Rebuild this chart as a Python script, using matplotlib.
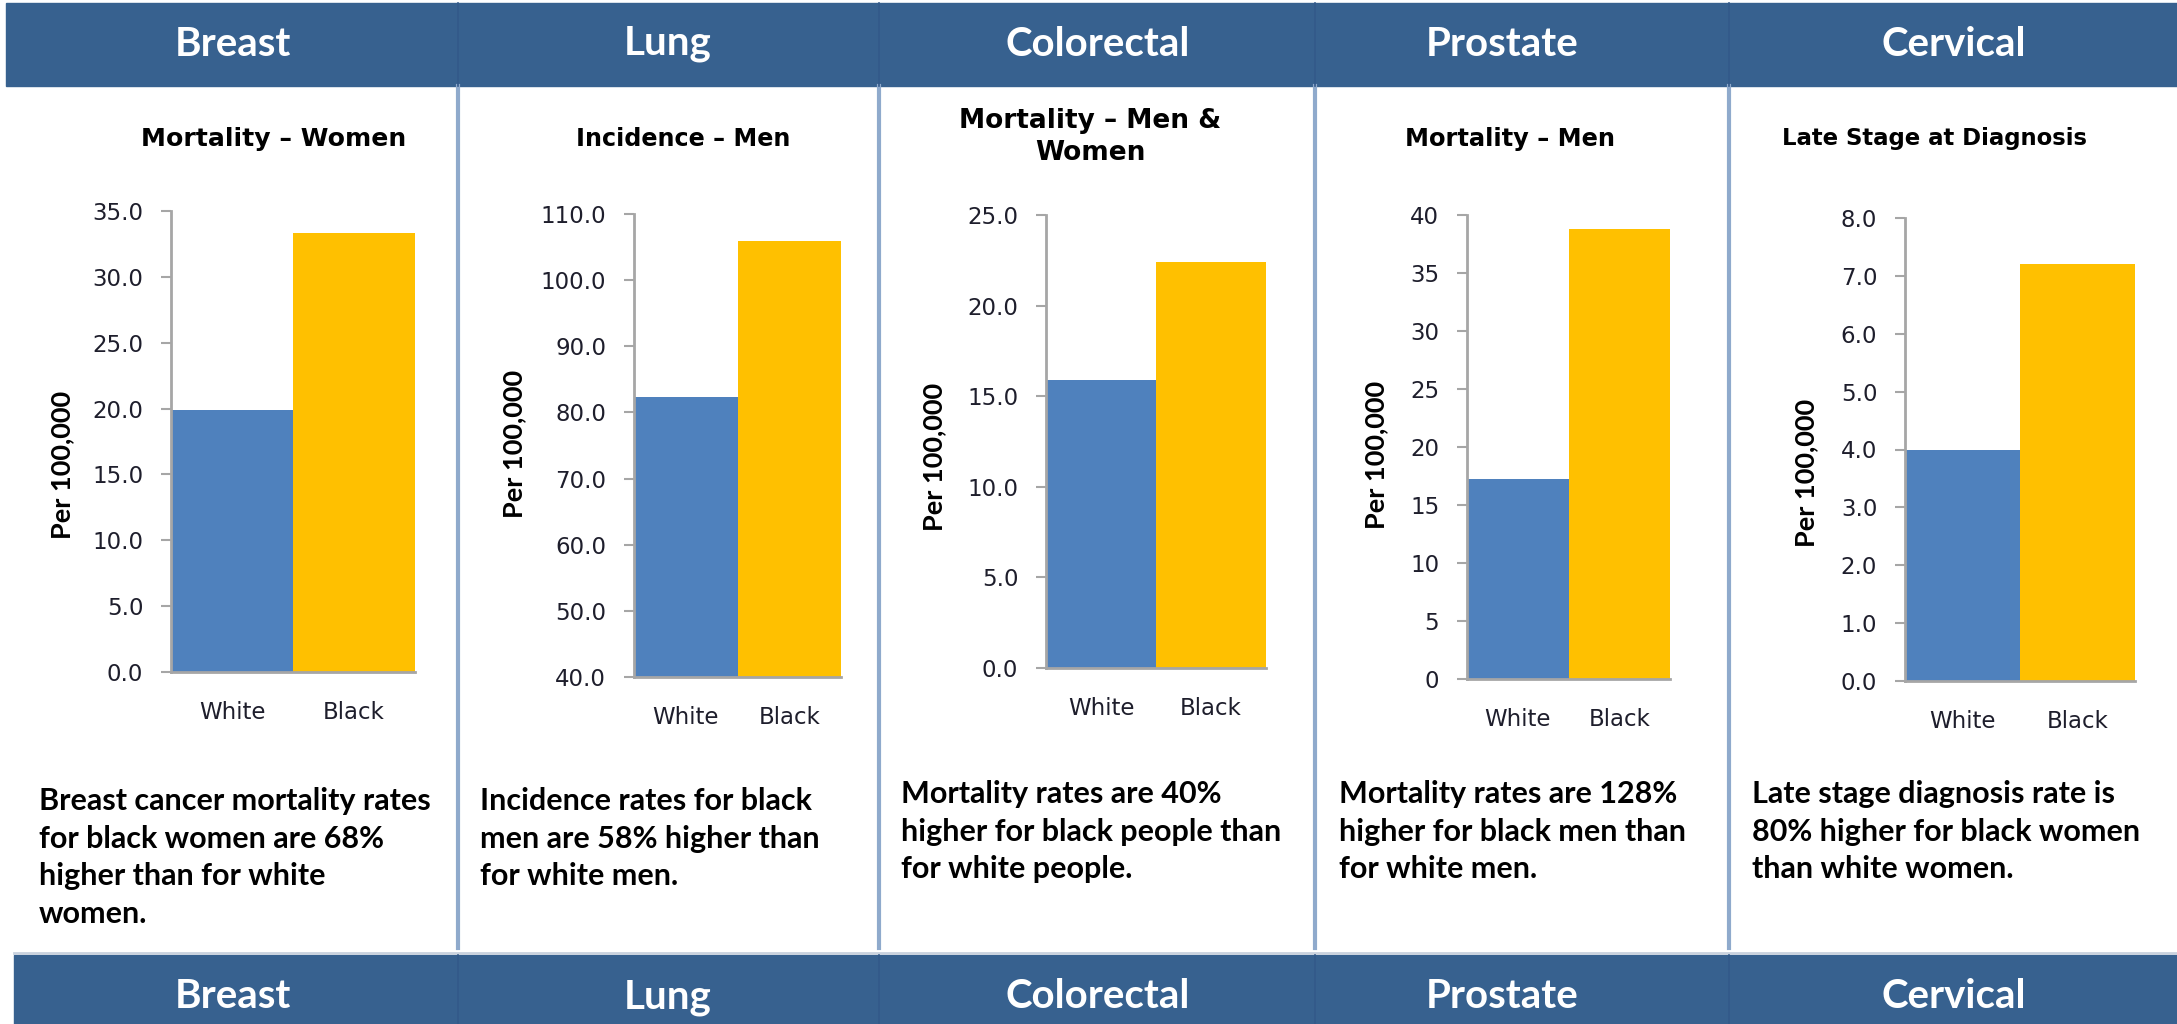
import matplotlib
matplotlib.use("Agg")
import matplotlib.pyplot as plt
from matplotlib import font_manager
from matplotlib.patches import Rectangle
from matplotlib.lines import Line2D

# --- data ---
cancers = ["Breast", "Lung", "Colorectal", "Prostate", "Cervical"]
groups = ["White", "Black"]
subtitles = ["Mortality – Women", "Incidence – Men", "Mortality – Men &\nWomen",
             "Mortality – Men", "Late Stage at Diagnosis"]
white_vals = [19.9, 82.3, 15.9, 17.2, 4.0]
black_vals = [33.3, 105.9, 22.4, 38.8, 7.2]
y_ranges = [(0, 35, 5), (40, 110, 10), (0, 25, 5), (0, 40, 5), (0, 8, 1)]
y_formats = ["{:.1f}", "{:.1f}", "{:.1f}", "{:.0f}", "{:.1f}"]
y_label = "Per 100,000"
notes = [
    ["Breast cancer mortality rates", "for black women are 68%", "higher than for white", "women."],
    ["Incidence rates for black", "men are 58% higher than", "for white men."],
    ["Mortality rates are 40%", "higher for black people than", "for white people."],
    ["Mortality rates are 128%", "higher for black men than", "for white men."],
    ["Late stage diagnosis rate is", "80% higher for black women", "than white women."],
]

# --- layout in pixels of the 2177x1024 canvas ---
W, H = 2177, 1024
col_edges = [6, 458, 879, 1315, 1729, 2177]
axes_px = [(171, 211, 415, 672), (634, 214, 841, 677), (1046, 215, 1266, 668),
           (1467, 215, 1670, 679), (1905, 218, 2135, 681)]
banner_x = [233, 668, 1098, 1502, 1954]
subtitle_xy = [(274, 139), (683, 139), (1090, 137), (1510, 139), (1935, 139)]
subtitle_w = [265, 214, 262, 211, 306]
ylabel_xy = [(62, 465), (514, 444), (934, 457), (1376, 455), (1806, 473)]
note_xy = [(39, 801), (480, 801), (901, 794), (1339, 794), (1752, 794)]
note_step = 37.7

BANNER = "#37618F"
BLUE = "#4F81BD"
GOLD = "#FFC000"
SEP = "#8FAACC"
AXIS = "#A6A6A6"
INK = "#1E1E2C"

names = {f.name for f in font_manager.fontManager.ttflist}
body_font = next((n for n in ["Liberation Sans Narrow", "Lato", "Open Sans"] if n in names), "DejaVu Sans")


def fx(x):
    return x / W


def fy(y):
    return 1 - y / H


fig = plt.figure(figsize=(W / 100, H / 100), dpi=100)
renderer = fig.canvas.get_renderer()


def fit(text, width, vertical=False, **kw):
    # font size at which the text spans the given number of pixels
    probe = fig.text(0, 0, text, fontsize=20, fontweight="bold",
                     rotation=90 if vertical else 0, **kw)
    bb = probe.get_window_extent(renderer)
    probe.remove()
    return 20 * width / (bb.height if vertical else bb.width)


banner_size = fit("Colorectal", 184, family=body_font)
note_size = fit(notes[0][0], 391, family=body_font)
ylab_size = fit(y_label, 150, vertical=True, family=body_font)

# banners
fig.add_artist(Rectangle((fx(6), fy(86)), fx(W) - fx(6), 83 / H,
                         transform=fig.transFigure, color=BANNER, zorder=0))
fig.add_artist(Line2D([fx(14), 1], [fy(953), fy(953)], transform=fig.transFigure,
                      color="#C9D2DE", lw=2))
fig.add_artist(Rectangle((fx(14), 0), 1 - fx(14), 69 / H,
                         transform=fig.transFigure, color=BANNER, zorder=0))

for x in col_edges[1:-1]:
    fig.add_artist(Line2D([fx(x), fx(x)], [fy(86), fy(948)], transform=fig.transFigure,
                          color=SEP, lw=3))
    for y0, y1 in [(3, 86), (955, 1024)]:
        fig.add_artist(Line2D([fx(x), fx(x)], [fy(y0), fy(y1)], transform=fig.transFigure,
                              color="#33598A", lw=1.2))

for i, name in enumerate(cancers):
    for yy in (44, 997):
        fig.text(fx(banner_x[i]), fy(yy), name, ha="center", va="center",
                 color="white", fontweight="bold", family=body_font, fontsize=banner_size)

for i in range(5):
    l, t, r, b = axes_px[i]
    ax = fig.add_axes([fx(l), fy(b), (r - l) / W, (b - t) / H])
    ax.bar([0, 1], [white_vals[i], black_vals[i]], width=1.0, color=[BLUE, GOLD], zorder=2)
    lo, hi, step = y_ranges[i]
    ticks = list(range(lo, hi + 1, step))
    ax.set_ylim(lo, hi)
    ax.set_yticks(ticks)
    ax.set_yticklabels([y_formats[i].format(v) for v in ticks])
    ax.set_xlim(-0.5, 1.5)
    ax.set_xticks([0, 1])
    ax.set_xticklabels(groups)
    for side in ["top", "right"]:
        ax.spines[side].set_visible(False)
    for side in ["left", "bottom"]:
        ax.spines[side].set_color(AXIS)
        ax.spines[side].set_linewidth(2)
    ax.tick_params(axis="y", direction="out", length=7, width=1.5, color=AXIS,
                   pad=13, labelsize=16.5, labelcolor=INK)
    ax.tick_params(axis="x", length=0, pad=21, labelsize=16.5, labelcolor=INK)
    ax.set_facecolor("none")

    sx, sy = subtitle_xy[i]
    size = fit(subtitles[i].split("\n")[0], subtitle_w[i])
    fig.text(fx(sx), fy(sy), subtitles[i], ha="center", va="center",
             fontweight="bold", color="black", fontsize=size, linespacing=1.3)

    yx, yy = ylabel_xy[i]
    fig.text(fx(yx), fy(yy), y_label, rotation=90, ha="center", va="center",
             fontweight="bold", family=body_font, fontsize=ylab_size, color="black")

    nx, ny = note_xy[i]
    for k, line in enumerate(notes[i]):
        fig.text(fx(nx), fy(ny + k * note_step), line, ha="left", va="center",
                 fontweight="bold", family=body_font, fontsize=note_size, color="black")

fig.savefig("out.png", dpi=100)
